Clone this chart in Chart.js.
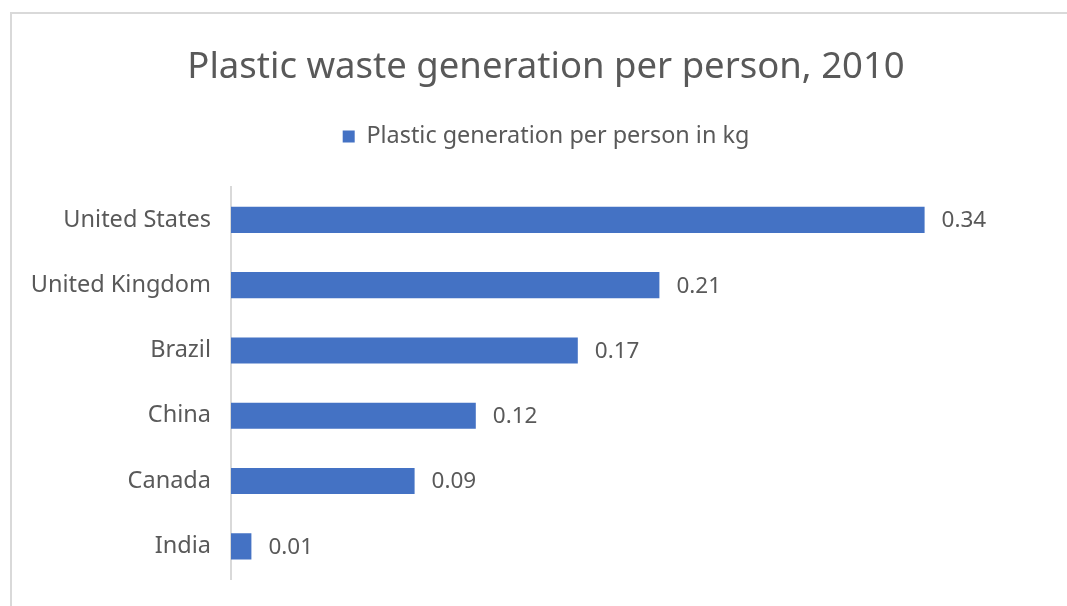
<!DOCTYPE html>
<html>
<head>
<meta charset="utf-8">
<script src="https://cdn.jsdelivr.net/npm/chart.js@4.4.1/dist/chart.umd.min.js"></script>
<style>
  html, body { margin: 0; padding: 0; background: #fff; overflow: hidden; }
  #wrap { position: absolute; left: 0; top: 0; width: 1067px; height: 606px; }
  #frame {
    position: absolute; left: 10px; top: 12px; width: 1100px; height: 650px;
    border-top: 2px solid #d9d9d9; border-left: 2px solid #d9d9d9;
    pointer-events: none;
  }
</style>
</head>
<body>
<div id="wrap">
  <canvas id="chart" width="1067" height="606"></canvas>
  <div id="frame"></div>
</div>
<script>
// plastic waste per person, kg (2010)
const countries = ['United States', 'United Kingdom', 'Brazil', 'China', 'Canada', 'India'];
const kgPerPerson = [0.34, 0.21, 0.17, 0.12, 0.09, 0.01];
const seriesName = 'Plastic generation per person in kg';
const chartTitle = 'Plastic waste generation per person, 2010';

const FONT = '"Noto Sans", "Open Sans", sans-serif';
const TEXT = '#595959';
const BAR = '#4472C4';

// value labels to the right of each bar
const barValues = {
  id: 'barValues',
  afterDatasetsDraw(chart) {
    const { ctx } = chart;
    const meta = chart.getDatasetMeta(0);
    ctx.save();
    ctx.font = '22.5px ' + FONT;
    ctx.fillStyle = TEXT;
    ctx.textAlign = 'left';
    ctx.textBaseline = 'middle';
    meta.data.forEach((bar, i) => {
      ctx.fillText(kgPerPerson[i].toFixed(2), bar.x + 17, bar.y + 1);
    });
    ctx.restore();
  }
};

// long country names may run into the left margin instead of being clipped
const wideLabels = {
  id: 'wideLabels',
  afterLayout(chart) {
    chart.scales.y.left = 0;
  }
};

new Chart(document.getElementById('chart'), {
  type: 'bar',
  data: {
    labels: countries,
    datasets: [{
      label: seriesName,
      data: kgPerPerson,
      backgroundColor: BAR,
      borderWidth: 0,
      barPercentage: 1,
      categoryPercentage: 0.4
    }]
  },
  options: {
    indexAxis: 'y',
    responsive: false,
    animation: false,
    layout: { padding: { left: 45, right: 20, top: 0, bottom: 27 } },
    scales: {
      x: {
        // kept invisible on top, only to leave room under the legend
        display: true,
        position: 'top',
        min: 0,
        max: 0.4,
        afterFit: (s) => { s.height = 29; },
        grid: { display: false, drawTicks: false },
        border: { display: false },
        ticks: { display: false }
      },
      y: {
        afterFit: (s) => {
          s.width = 186;
          s.paddingTop = 0;
          s.paddingBottom = 0;
        },
        grid: { display: false, drawTicks: false },
        border: { display: true, color: '#d9d9d9', width: 2 },
        ticks: {
          padding: 20,
          color: TEXT,
          font: { family: FONT, size: 23.5 }
        }
      }
    },
    plugins: {
      title: {
        display: true,
        text: chartTitle,
        color: TEXT,
        font: { family: FONT, size: 36.5, weight: 'normal' },
        padding: { top: 46, bottom: 25 }
      },
      legend: {
        display: true,
        position: 'top',
        labels: {
          color: TEXT,
          font: { family: FONT, size: 23.4 },
          boxWidth: 12,
          boxHeight: 12,
          padding: 10
        }
      },
      tooltip: { enabled: false }
    }
  },
  plugins: [barValues, wideLabels]
});
</script>
</body>
</html>
